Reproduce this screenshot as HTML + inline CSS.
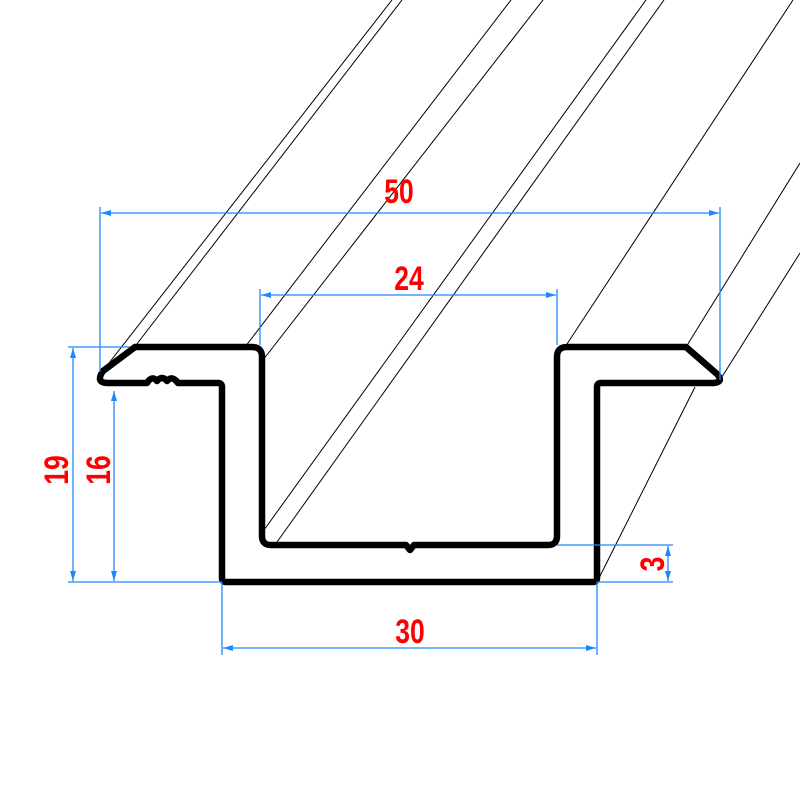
<!DOCTYPE html>
<html><head><meta charset="utf-8"><style>
html,body{margin:0;padding:0;background:#fff;}
svg{display:block;}
.t{font-family:"Liberation Sans",sans-serif;font-weight:bold;font-size:34px;fill:#ff0000;}
</style></head><body>
<svg width="800" height="800" viewBox="0 0 800 800" xmlns="http://www.w3.org/2000/svg">
<defs>
<marker id="a" viewBox="0 0 10 6" refX="10" refY="3" markerWidth="10" markerHeight="6" orient="auto-start-reverse" markerUnits="userSpaceOnUse"><path d="M0,0 L10,3 L0,6 Z" fill="#1e88ff"/></marker>
</defs>
<g stroke="#000" stroke-width="1" fill="none">
<line x1="102" y1="372" x2="392" y2="0"/>
<line x1="133" y1="349" x2="402" y2="0"/>
<line x1="245" y1="347" x2="511" y2="0"/>
<line x1="263" y1="360" x2="543" y2="0"/>
<line x1="264" y1="530" x2="646" y2="0"/>
<line x1="277" y1="542" x2="664" y2="0"/>
<line x1="565" y1="347" x2="793" y2="0"/>
<line x1="686" y1="347" x2="800" y2="163"/>
<line x1="720" y1="380" x2="800" y2="253"/>
<line x1="597" y1="582" x2="695" y2="387"/>
</g>
<path d="M108,383 L147,383 Q152,375 157,381 Q162,375 167,381 Q172,375 178,383 L218,383 Q222,383 222,387 L222,578 Q222,582 226,582 L593,582 Q597,582 597,578 L597,387 Q597,383 601,383 L714,383 Q724,382 717,374 L686,347 L567,347 Q557,347 557,357 L557,536 Q557,545 548,545 L414,545 L410,550 L406,545 L271,545 Q262,545 262,536 L262,357 Q262,347 252,347 L135,347 L103,371 Q95,383 108,383 Z" fill="none" stroke="#000" stroke-width="6.5" stroke-linejoin="round"/>
<g stroke="#1e88ff" stroke-width="1.3" fill="none">
<line x1="100" y1="207" x2="100" y2="372"/>
<line x1="720" y1="207" x2="720" y2="380"/>
<line x1="101" y1="213" x2="719" y2="213" marker-start="url(#a)" marker-end="url(#a)"/>
<line x1="260" y1="289" x2="260" y2="345"/>
<line x1="557" y1="289" x2="557" y2="345"/>
<line x1="261" y1="295" x2="556" y2="295" marker-start="url(#a)" marker-end="url(#a)"/>
<line x1="68" y1="347" x2="130" y2="347"/>
<line x1="68" y1="582" x2="222" y2="582"/>
<line x1="73" y1="348" x2="73" y2="581" marker-start="url(#a)" marker-end="url(#a)"/>
<line x1="114" y1="391" x2="114" y2="581" marker-start="url(#a)" marker-end="url(#a)"/>
<line x1="222" y1="582" x2="222" y2="655"/>
<line x1="597" y1="582" x2="597" y2="655"/>
<line x1="223" y1="648" x2="596" y2="648" marker-start="url(#a)" marker-end="url(#a)"/>
<line x1="557" y1="545" x2="673" y2="545"/>
<line x1="597" y1="582" x2="673" y2="582"/>
<line x1="668" y1="546" x2="668" y2="581" marker-start="url(#a)" marker-end="url(#a)"/>
</g>
<text class="t" transform="translate(399,203) scale(0.78,1)" text-anchor="middle">50</text>
<text class="t" transform="translate(409,290) scale(0.78,1)" text-anchor="middle">24</text>
<text class="t" transform="translate(410,643) scale(0.78,1)" text-anchor="middle">30</text>
<text class="t" transform="translate(68,470) rotate(-90) scale(0.78,1)" text-anchor="middle">19</text>
<text class="t" transform="translate(110,470) rotate(-90) scale(0.78,1)" text-anchor="middle">16</text>
<text class="t" transform="translate(664,564) rotate(-90) scale(0.78,1)" text-anchor="middle">3</text>
</svg>
</body></html>
